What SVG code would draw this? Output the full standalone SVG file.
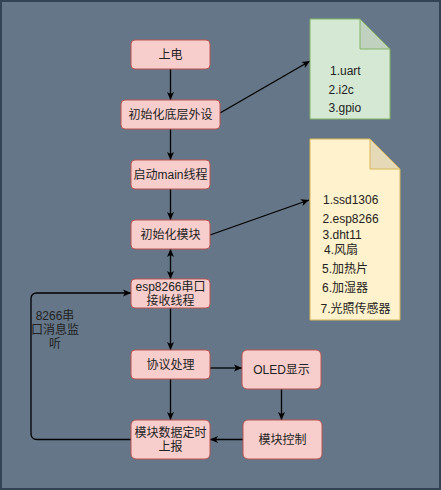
<svg xmlns="http://www.w3.org/2000/svg" width="441" height="490" viewBox="0 0 441 490">
<defs>
<marker id="arr" viewBox="0 0 8 8" markerWidth="8" markerHeight="8" refX="8" refY="4" orient="auto-start-reverse" markerUnits="userSpaceOnUse">
<path d="M0,0.5 L8,4 L0,7.5 L2,4 Z" fill="#000"/>
</marker>
<style>
.node rect{fill:#f8cecc;stroke:#b85450;stroke-width:1}
.t{font-family:"Liberation Sans","Noto Sans CJK SC",sans-serif;font-size:12px;fill:#222;text-anchor:middle;dominant-baseline:central}
.n{font-family:"Liberation Sans","Noto Sans CJK SC",sans-serif;font-size:12px;fill:#222;dominant-baseline:central}
.e{fill:none;stroke:#000;stroke-width:1.3}
</style>
</defs>
<rect x="1" y="1" width="439" height="488" fill="#647687" stroke="#314354" stroke-width="2"/>

<g id="connectors">
<path class="e" d="M170.5,69 V100" marker-end="url(#arr)"/>
<path class="e" d="M220,113 L310,61" marker-end="url(#arr)"/>
<path class="e" d="M170.5,129 V160" marker-end="url(#arr)"/>
<path class="e" d="M170.5,189 V220" marker-end="url(#arr)"/>
<path class="e" d="M210,235 L309,200" marker-end="url(#arr)"/>
<path class="e" d="M170.5,249 V279" marker-start="url(#arr)" marker-end="url(#arr)"/>
<path class="e" d="M170.5,308 V350" marker-end="url(#arr)"/>
<path class="e" d="M170.5,379 V420" marker-end="url(#arr)"/>
<path class="e" d="M210,368 H242" marker-end="url(#arr)"/>
<path class="e" d="M281.5,389 V420" marker-end="url(#arr)"/>
<path class="e" d="M243,439.5 H210" marker-end="url(#arr)"/>
<path class="e" d="M131,439.5 H37 Q31,439.5 31,433.5 V299 Q31,293 37,293 H131" marker-end="url(#arr)"/>
<text class="t" x="55" y="316">8266串</text>
<text class="t" x="55" y="330">口消息监</text>
<text class="t" x="55" y="344">听</text>
</g>

<g id="node-power" class="node"><rect x="131" y="40" width="79" height="29" rx="4"/><text class="t" x="170.5" y="54.5">上电</text></g>
<g id="node-init-periph" class="node"><rect x="121" y="100" width="99" height="29" rx="4"/><text class="t" x="170.5" y="114.5">初始化底层外设</text></g>
<g id="node-main" class="node"><rect x="131" y="160" width="79" height="29" rx="4"/><text class="t" x="170.5" y="174.5">启动main线程</text></g>
<g id="node-init-mod" class="node"><rect x="131" y="220" width="79" height="29" rx="4"/><text class="t" x="170.5" y="234.5">初始化模块</text></g>
<g id="node-esp" class="node"><rect x="131" y="279" width="79" height="29" rx="4"/><text class="t" x="170.5" y="286.5">esp8266串口</text><text class="t" x="170.5" y="300.5">接收线程</text></g>
<g id="node-proto" class="node"><rect x="131" y="350" width="79" height="29" rx="4"/><text class="t" x="170.5" y="364.5">协议处理</text></g>
<g id="node-report" class="node"><rect x="131" y="420" width="79" height="39" rx="5"/><text class="t" x="170.5" y="432.5">模块数据定时</text><text class="t" x="170.5" y="446.5">上报</text></g>
<g id="node-oled" class="node"><rect x="242" y="350" width="79" height="39" rx="5"/><text class="t" x="281.5" y="369.5">OLED显示</text></g>
<g id="node-ctrl" class="node"><rect x="243" y="420" width="79" height="39" rx="5"/><text class="t" x="282.5" y="439.5">模块控制</text></g>

<g id="note-periph">
<path d="M310,19 H360 L390,49 V119 H310 Z" fill="#d5e8d4" stroke="#82b366"/>
<path d="M360,19 V49 H390 Z" fill="#c0d1bf" stroke="#82b366"/>
<text class="n" x="330" y="70.5">1.uart</text>
<text class="n" x="328.5" y="90">2.i2c</text>
<text class="n" x="328.5" y="107.5">3.gpio</text>
</g>

<g id="note-modules">
<path d="M310,139 H370 L400,169 V320 H310 Z" fill="#fff2cc" stroke="#d6b656"/>
<path d="M370,139 V169 H400 Z" fill="#e6d9b8" stroke="#d6b656"/>
<text class="n" x="323" y="200">1.ssd1306</text>
<text class="n" x="322.5" y="219">2.esp8266</text>
<text class="n" x="322.5" y="235">3.dht11</text>
<text class="n" x="324" y="250">4.风扇</text>
<text class="n" x="322" y="268.5">5.加热片</text>
<text class="n" x="322" y="288">6.加湿器</text>
<text class="n" x="320.5" y="308.5">7.光照传感器</text>
</g>
</svg>
